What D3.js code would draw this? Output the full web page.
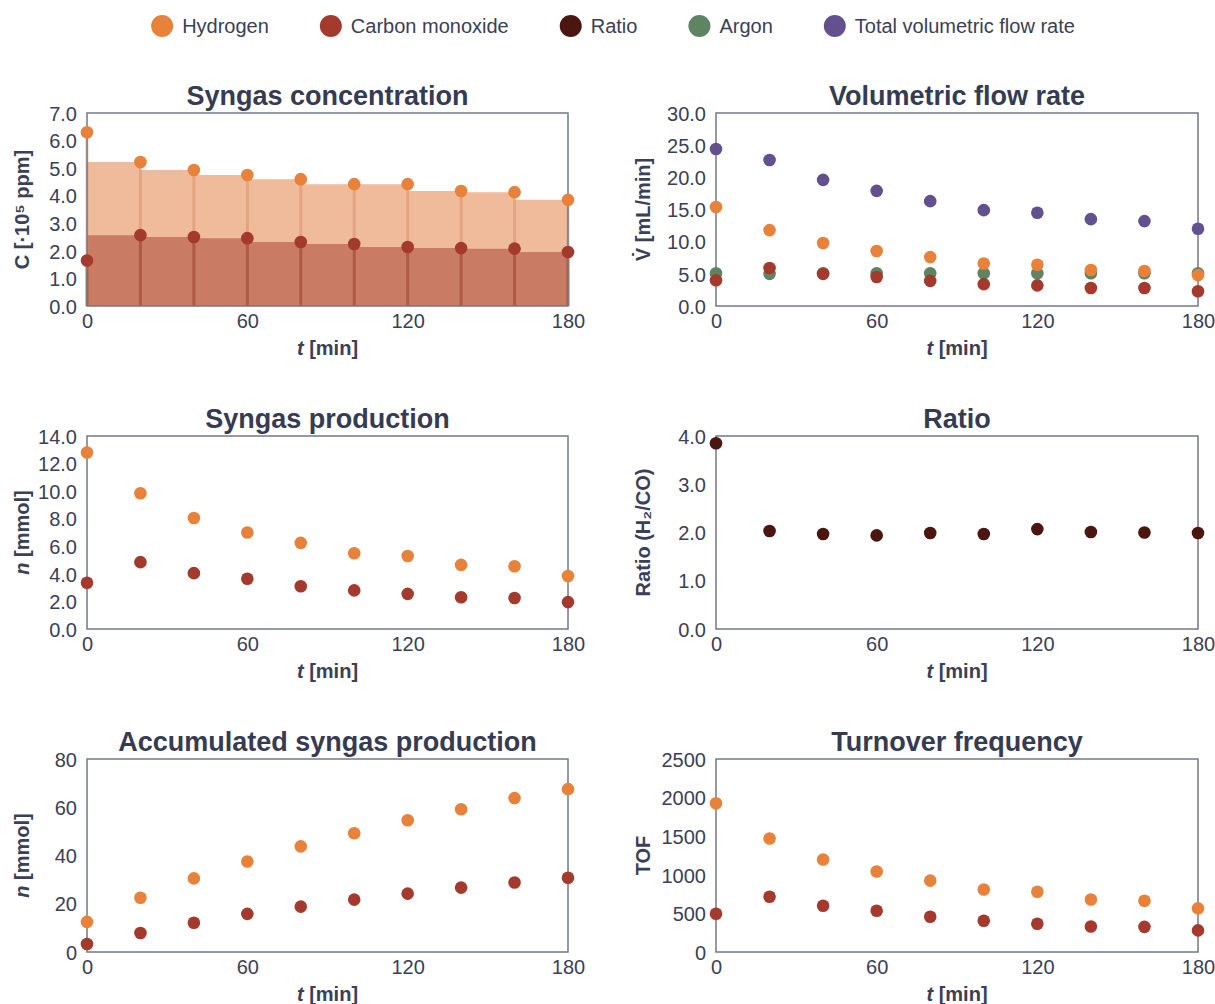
<!DOCTYPE html>
<html>
<head>
<meta charset="utf-8">
<script src="https://d3js.org/d3.v7.min.js"></script>
<style>
  body { margin: 0; background: #fff; }
  text { font-family: "Liberation Sans", Arial, sans-serif; }
</style>
</head>
<body>
<svg id="chart" width="1215" height="1004"></svg>
<script>
// sampling times [min]
var times = [0, 20, 40, 60, 80, 100, 120, 140, 160, 180];
var xTicks = [0, 60, 120, 180];

// syngas concentration [1e5 ppm]
var concH2 = [6.3, 5.22, 4.93, 4.75, 4.6, 4.42, 4.42, 4.17, 4.13, 3.85];
var concCO = [1.65, 2.57, 2.5, 2.46, 2.32, 2.25, 2.14, 2.1, 2.08, 1.96];

// volumetric flow rate [mL/min]
var flowTotal = [24.4, 22.7, 19.6, 17.9, 16.3, 14.9, 14.5, 13.5, 13.2, 12.0];
var flowH2 = [15.4, 11.8, 9.8, 8.55, 7.6, 6.6, 6.4, 5.6, 5.45, 4.8];
var flowAr = [5.1, 5.0, 5.1, 5.1, 5.1, 5.1, 5.1, 5.1, 5.1, 5.1];
var flowCO = [4.0, 5.9, 5.0, 4.5, 3.9, 3.4, 3.2, 2.8, 2.8, 2.3];

// syngas production [mmol]
var prodH2 = [12.8, 9.85, 8.05, 7.0, 6.25, 5.5, 5.3, 4.65, 4.55, 3.85];
var prodCO = [3.35, 4.85, 4.05, 3.65, 3.1, 2.8, 2.55, 2.3, 2.25, 1.95];

// H2/CO ratio
var ratio = [3.85, 2.03, 1.97, 1.94, 1.99, 1.97, 2.07, 2.01, 2.0, 1.99];

// accumulated production [mmol]
var accH2 = [12.5, 22.5, 30.5, 37.5, 43.8, 49.2, 54.6, 59.2, 63.8, 67.5];
var accCO = [3.3, 7.9, 12.1, 15.8, 18.8, 21.7, 24.2, 26.7, 28.8, 30.8];

// turnover frequency
var tofH2 = [1927, 1470, 1198, 1042, 924, 810, 781, 680, 664, 565];
var tofCO = [495, 716, 599, 534, 456, 404, 365, 330, 326, 280];

var colH2 = "#E8813A", colCO = "#A43A2D", colRatio = "#4B1610",
    colAr = "#5E8463", colTot = "#63508F";
var txt = "#3a4057", frame = "#737888";

var svg = d3.select("#chart");

// legend
var legendItems = [
  {name: "Hydrogen", color: colH2},
  {name: "Carbon monoxide", color: colCO},
  {name: "Ratio", color: colRatio},
  {name: "Argon", color: colAr},
  {name: "Total volumetric flow rate", color: colTot}
];
var gap = 51;
var leg = svg.append("g");
var lx = 0;
legendItems.forEach(function(it) {
  var g = leg.append("g").attr("transform", "translate(" + lx + ",0)");
  g.append("circle").attr("cx", 11).attr("cy", 0).attr("r", 11).attr("fill", it.color);
  var t = g.append("text").attr("x", 31).attr("y", 7)
    .attr("font-size", 20).attr("fill", txt).text(it.name);
  lx += 31 + t.node().getComputedTextLength() + gap;
});
lx -= gap;
leg.attr("transform", "translate(" + (613 - lx / 2) + ",26)");

function panel(o) {
  var g = svg.append("g").attr("transform", "translate(" + o.left + "," + o.top + ")");
  var w = o.w, h = 193;
  var x = d3.scaleLinear().domain([0, 180]).range([0, w]);
  var y = d3.scaleLinear().domain([0, o.ymax]).range([h, 0]);

  if (o.under) o.under(g, x, y, h);

  g.append("rect").attr("width", w).attr("height", h)
    .attr("fill", "none").attr("stroke", frame).attr("stroke-width", 1.5);

  var yAx = g.append("g")
    .call(d3.axisLeft(y).tickValues(o.yTicks).tickSize(0).tickPadding(10)
      .tickFormat(d3.format(o.fmt)));
  var xAx = g.append("g").attr("transform", "translate(0," + h + ")")
    .call(d3.axisBottom(x).tickValues(xTicks).tickSize(0).tickPadding(8));
  [yAx, xAx].forEach(function(a) {
    a.select(".domain").remove();
    a.selectAll("text").attr("font-size", 20).attr("fill", txt)
      .attr("font-family", "Liberation Sans, Arial, sans-serif");
  });
  yAx.selectAll("text").attr("dy", "0.36em");

  o.series.forEach(function(s) {
    g.selectAll(null).data(s.values).enter().append("circle")
      .attr("cx", function(d, i) { return x(times[i]); })
      .attr("cy", function(d) { return y(d); })
      .attr("r", 6.3).attr("fill", s.color);
  });

  g.append("text").attr("x", w / 2).attr("y", -8).attr("text-anchor", "middle")
    .attr("font-size", 27).attr("font-weight", "bold").attr("fill", "#353b52")
    .text(o.title);

  var xl = g.append("text").attr("x", w / 2).attr("y", h + 49).attr("text-anchor", "middle")
    .attr("font-size", 20).attr("font-weight", "bold").attr("fill", txt);
  xl.append("tspan").attr("font-style", "italic").text("t");
  xl.append("tspan").text(" [min]");

  var yl = g.append("text").attr("transform", "translate(" + o.ylx + "," + (h / 2) + ") rotate(-90)")
    .attr("text-anchor", "middle").attr("font-size", 20).attr("font-weight", "bold")
    .attr("fill", txt);
  o.ylabel.forEach(function(p) {
    var ts = yl.append("tspan").text(p.t);
    if (p.i) ts.attr("font-style", "italic");
  });
}

var L = 87, R = 716;
var rows = [113, 436, 759];

panel({
  left: L, top: rows[0], w: 481, ymax: 7, yTicks: d3.range(0, 7.01, 1), fmt: ".1f",
  title: "Syngas concentration", ylx: -58,
  ylabel: [{t: "C [·10⁵ ppm]"}],
  under: function(g, x, y, h) {
    var area = function(vals) {
      return d3.area().curve(d3.curveStepBefore)
        .x(function(d, i) { return x(times[i]); })
        .y0(h).y1(function(d) { return y(d); })(vals);
    };
    g.append("path").attr("d", area(concH2)).attr("fill", "#F0BB9B");
    g.append("path").attr("d", area(concCO)).attr("fill", "#C97B64");
    g.selectAll(null).data(concH2).enter().append("line")
      .attr("x1", function(d, i) { return x(times[i]); })
      .attr("x2", function(d, i) { return x(times[i]); })
      .attr("y1", function(d) { return y(d); }).attr("y2", h)
      .attr("stroke", "#D88A62").attr("stroke-opacity", 0.45).attr("stroke-width", 3);
    g.selectAll(null).data(concCO).enter().append("line")
      .attr("x1", function(d, i) { return x(times[i]); })
      .attr("x2", function(d, i) { return x(times[i]); })
      .attr("y1", function(d) { return y(d); }).attr("y2", h)
      .attr("stroke", "#8E3325").attr("stroke-opacity", 0.5).attr("stroke-width", 3);
  },
  series: [{values: concH2, color: colH2}, {values: concCO, color: colCO}]
});

panel({
  left: R, top: rows[0], w: 482, ymax: 30, yTicks: d3.range(0, 30.01, 5), fmt: ".1f",
  title: "Volumetric flow rate", ylx: -66,
  ylabel: [{t: "V̇ [mL/min]"}],
  series: [{values: flowAr, color: colAr}, {values: flowTotal, color: colTot},
           {values: flowH2, color: colH2}, {values: flowCO, color: colCO}]
});

panel({
  left: L, top: rows[1], w: 481, ymax: 14, yTicks: d3.range(0, 14.01, 2), fmt: ".1f",
  title: "Syngas production", ylx: -58,
  ylabel: [{t: "n", i: true}, {t: " [mmol]"}],
  series: [{values: prodH2, color: colH2}, {values: prodCO, color: colCO}]
});

panel({
  left: R, top: rows[1], w: 482, ymax: 4, yTicks: d3.range(0, 4.01, 1), fmt: ".1f",
  title: "Ratio", ylx: -66,
  ylabel: [{t: "Ratio (H₂/CO)"}],
  series: [{values: ratio, color: colRatio}]
});

panel({
  left: L, top: rows[2], w: 481, ymax: 80, yTicks: d3.range(0, 80.1, 20), fmt: "d",
  title: "Accumulated syngas production", ylx: -58,
  ylabel: [{t: "n", i: true}, {t: " [mmol]"}],
  series: [{values: accH2, color: colH2}, {values: accCO, color: colCO}]
});

panel({
  left: R, top: rows[2], w: 482, ymax: 2500, yTicks: d3.range(0, 2501, 500), fmt: "d",
  title: "Turnover frequency", ylx: -66,
  ylabel: [{t: "TOF"}],
  series: [{values: tofH2, color: colH2}, {values: tofCO, color: colCO}]
});
</script>
</body>
</html>
